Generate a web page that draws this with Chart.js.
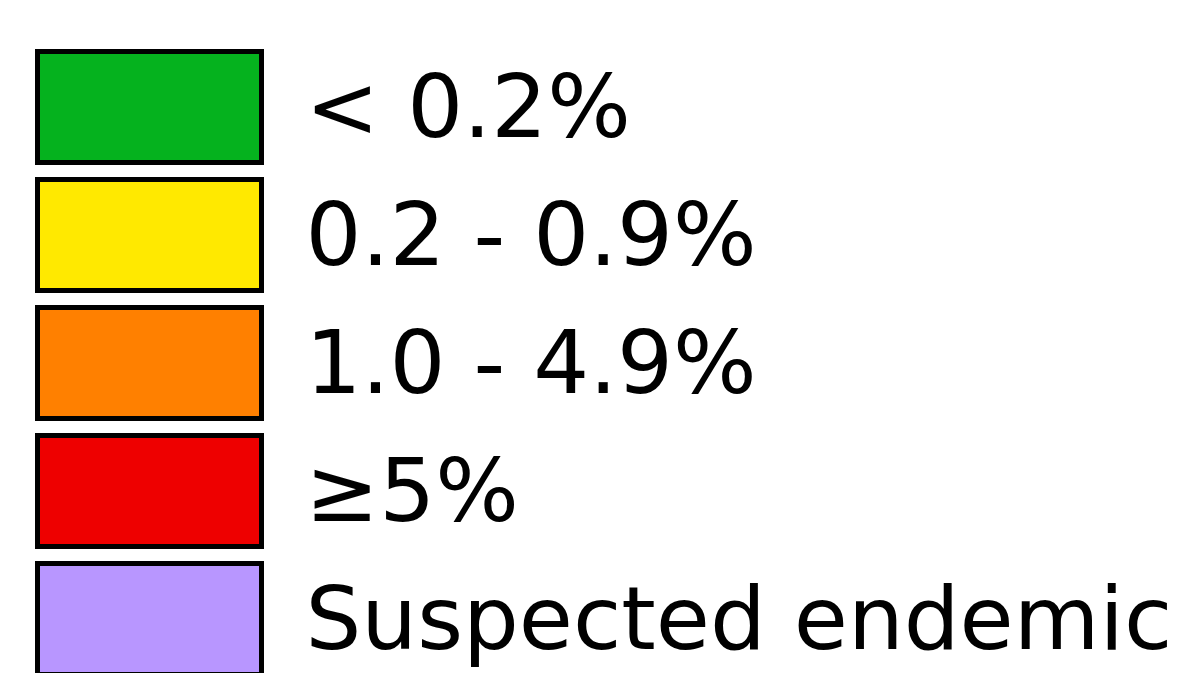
<!DOCTYPE html>
<html>
<head>
<meta charset="utf-8">
<script src="https://cdn.jsdelivr.net/npm/chart.js@4"></script>
<style>
  html, body { margin: 0; padding: 0; background: #fff; }
  #wrap { width: 1191px; height: 673px; position: relative; overflow: hidden; }
</style>
</head>
<body>
<div id="wrap"><canvas id="legendChart"></canvas></div>
<script>
// legend classes (prevalence)
const categories = ['< 0.2%', '0.2 - 0.9%', '1.0 - 4.9%', '\u22655%', 'Suspected endemic'];
const colors = ['#05b21e', '#ffe900', '#ff8000', '#ee0000', '#b896ff'];

function makeDatasets(labels, fills) {
    let arr = [];
    for (let i = 0; i < labels.length; i++) {
        arr.push({
            label: labels[i],
            data: [],
            backgroundColor: fills[i],
            borderColor: '#000000',
            borderWidth: 5
        });
    }
    return arr;
}

// push the text down a few px so it sits centred on the box (empty first line)
function shiftedLabels(chart) {
    let items = Chart.defaults.plugins.legend.labels.generateLabels(chart);
    for (let i = 0; i < items.length; i++) {
        items[i].text = ['', items[i].text];
    }
    return items;
}

let config = {
    type: 'bar',
    data: {
        labels: [],
        datasets: makeDatasets(categories, colors)
    },
    options: {
        responsive: true,
        maintainAspectRatio: false,
        animation: false,
        layout: { padding: { top: 34.5, left: 20.5 } },
        scales: {
            x: { display: false },
            y: { display: false }
        },
        plugins: {
            tooltip: { enabled: false },
            legend: {
                position: 'top',
                align: 'start',
                maxHeight: 1000,
                labels: {
                    boxWidth: 224,
                    boxHeight: 111,
                    padding: 17,
                    color: '#000000',
                    font: { family: 'DejaVu Sans', size: 88, lineHeight: '7px' },
                    generateLabels: shiftedLabels
                }
            }
        }
    }
};

new Chart(document.getElementById('legendChart'), config);
</script>
</body>
</html>
